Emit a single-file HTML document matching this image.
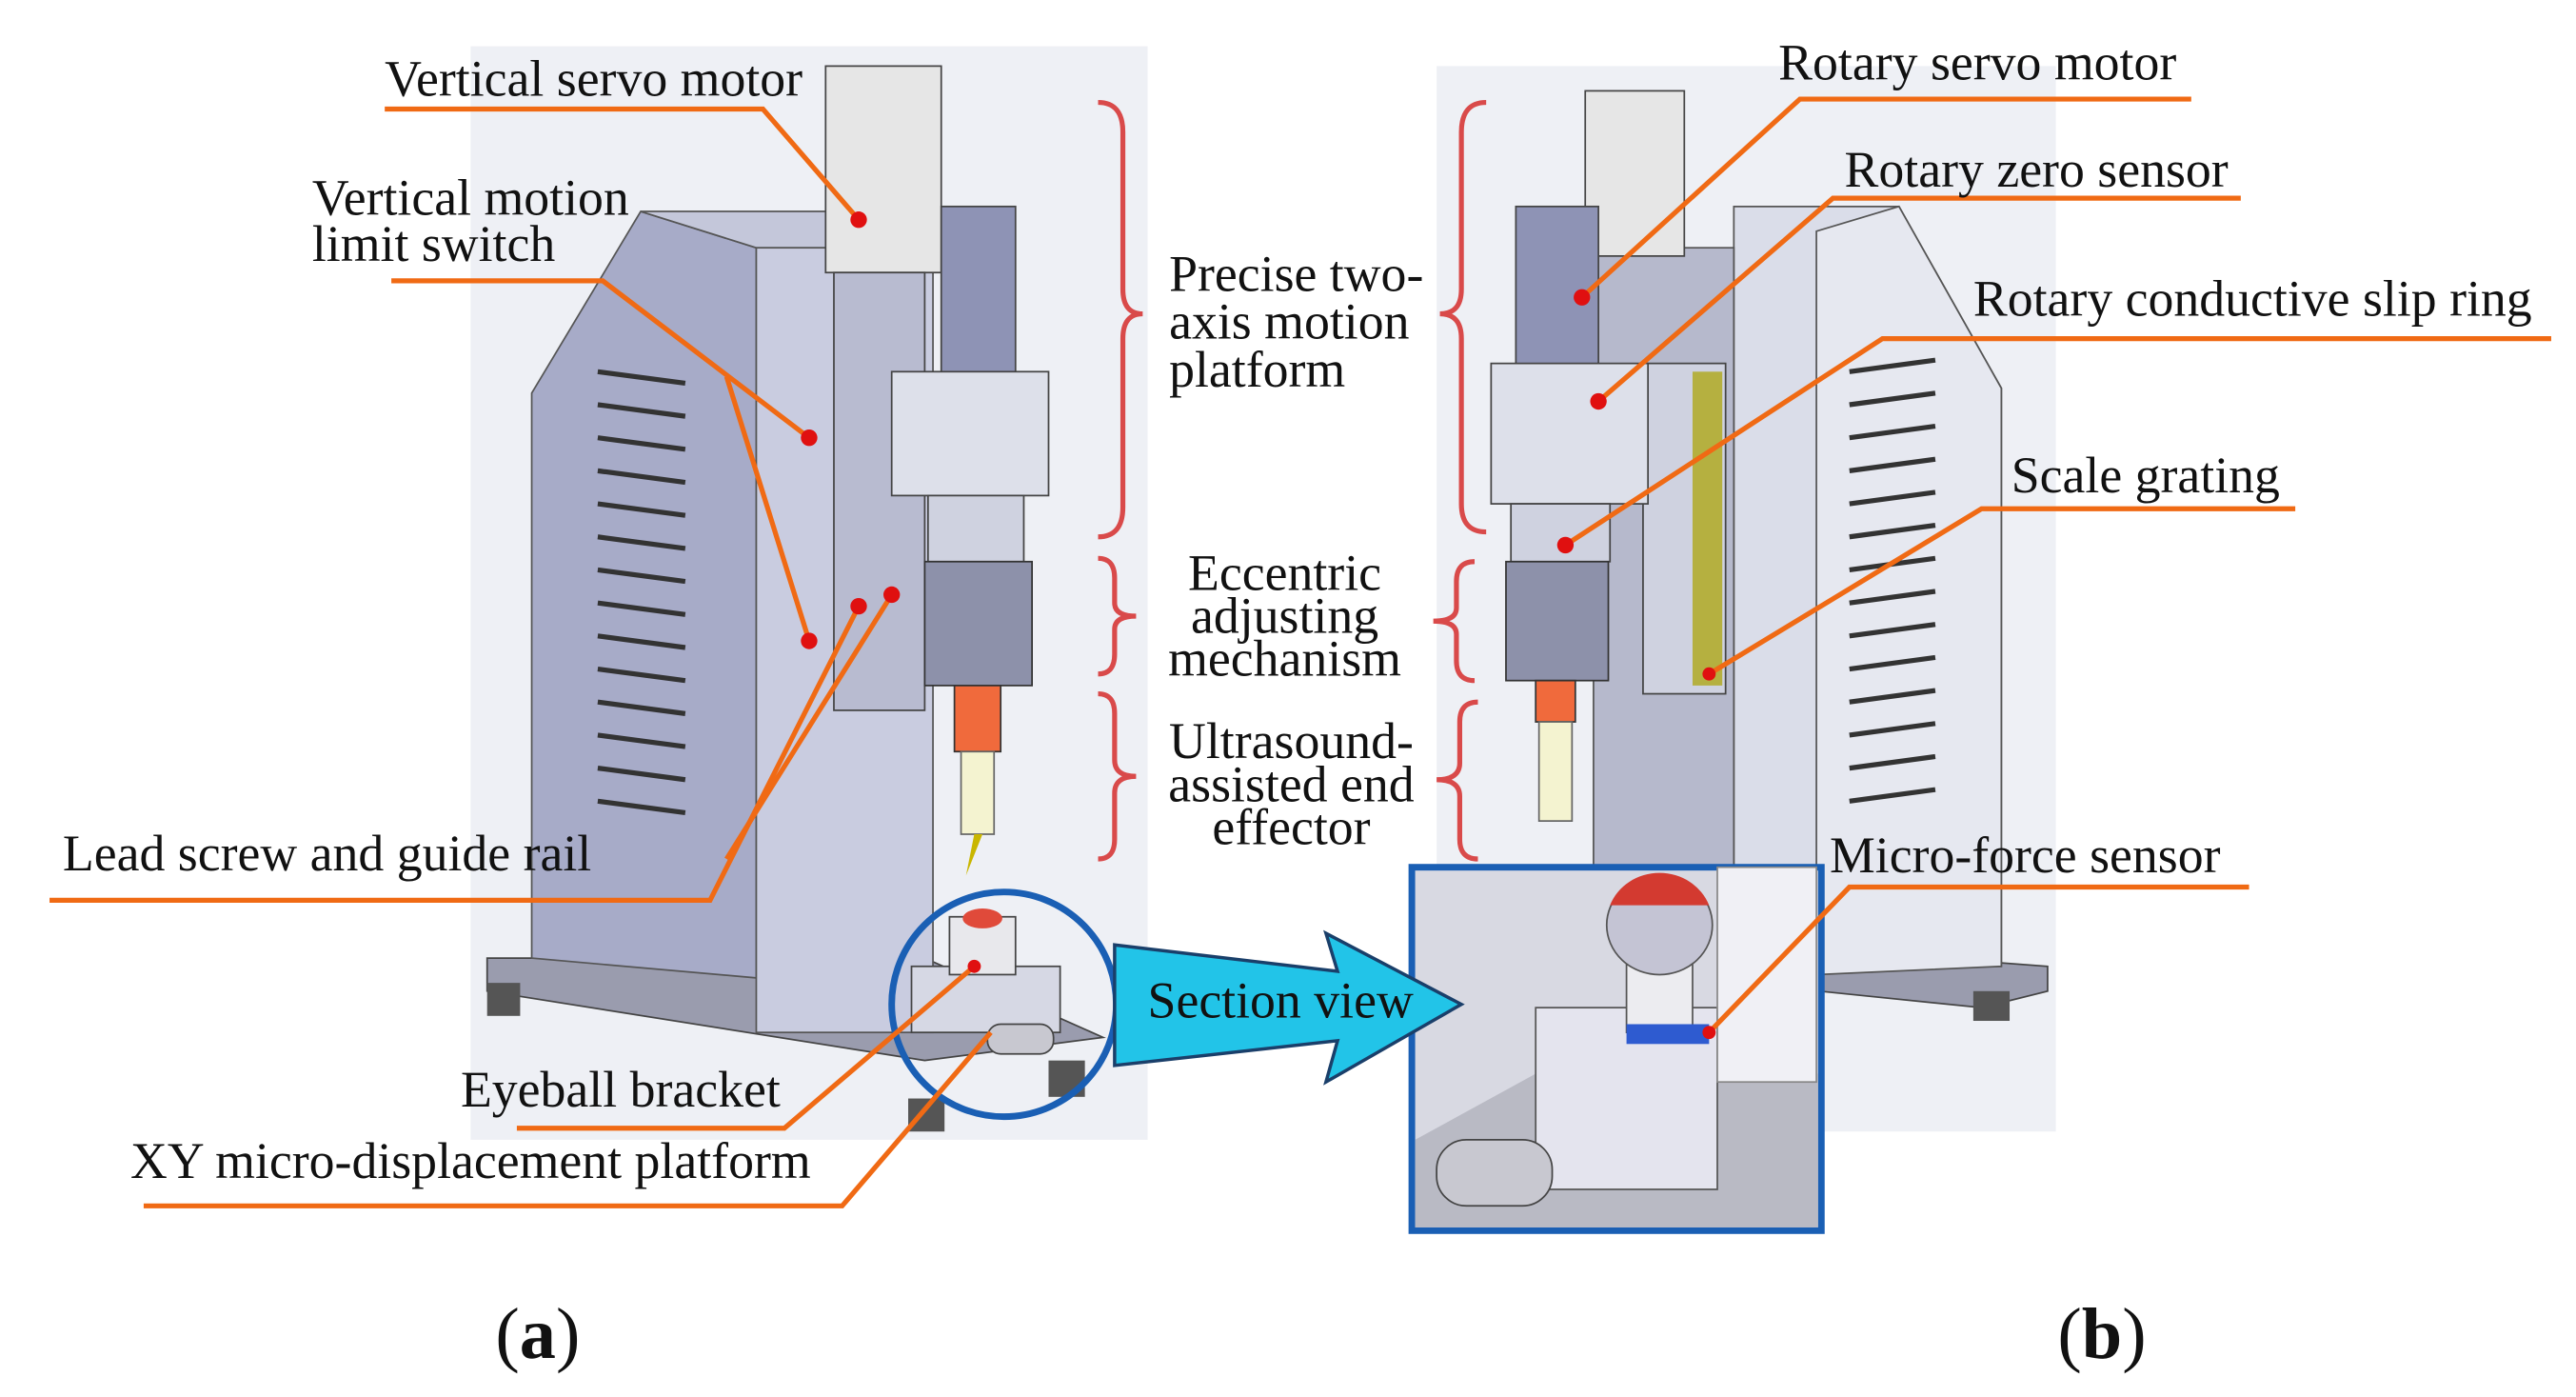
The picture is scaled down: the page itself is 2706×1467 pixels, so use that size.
<!DOCTYPE html>
<html><head><meta charset="utf-8"><style>
html,body{margin:0;padding:0;background:#fff;}
svg{display:block;}
text{font-family:"Liberation Serif",serif;font-size:31px;fill:#111;}
</style></head><body>
<svg width="2706" height="1467" viewBox="0 0 1560 845.7" preserveAspectRatio="none" xmlns="http://www.w3.org/2000/svg">
<rect x="285" y="28" width="410" height="662" fill="#eef0f5"/>
<rect x="870" y="40" width="375" height="645" fill="#eef0f5"/>

<polygon points="295,580 560,580 668,628 560,642 295,600" fill="#9a9cae" stroke="#444" stroke-width="1"/>
<polygon points="322,238 388,128 458,150 458,592 322,580" fill="#a7abc8" stroke="#555"/>
<polygon points="388,128 560,128 560,150 458,150" fill="#c4c7da" stroke="#555"/>
<g stroke="#333" stroke-width="3">
<line x1="362" y1="225" x2="415" y2="232"/><line x1="362" y1="245" x2="415" y2="252"/><line x1="362" y1="265" x2="415" y2="272"/><line x1="362" y1="285" x2="415" y2="292"/><line x1="362" y1="305" x2="415" y2="312"/><line x1="362" y1="325" x2="415" y2="332"/><line x1="362" y1="345" x2="415" y2="352"/><line x1="362" y1="365" x2="415" y2="372"/><line x1="362" y1="385" x2="415" y2="392"/><line x1="362" y1="405" x2="415" y2="412"/><line x1="362" y1="425" x2="415" y2="432"/><line x1="362" y1="445" x2="415" y2="452"/><line x1="362" y1="465" x2="415" y2="472"/><line x1="362" y1="485" x2="415" y2="492"/>
</g>
<rect x="458" y="150" width="107" height="475" fill="#c9cce0" stroke="#555"/>
<rect x="500" y="40" width="70" height="125" fill="#e6e6e6" stroke="#444"/>
<rect x="505" y="165" width="55" height="265" fill="#b8bbd0" stroke="#444"/>
<rect x="570" y="125" width="45" height="105" fill="#8e93b5" stroke="#444"/>
<rect x="540" y="225" width="95" height="75" fill="#dde0ea" stroke="#444"/>
<rect x="562" y="300" width="58" height="40" fill="#cfd2e0" stroke="#444"/>
<rect x="560" y="340" width="65" height="75" fill="#8d91aa" stroke="#333"/>
<rect x="578" y="415" width="28" height="40" fill="#f06a3c" stroke="#333"/>
<rect x="582" y="455" width="20" height="50" fill="#f4f3d0" stroke="#666"/>
<polygon points="590,505 595,505 585,530" fill="#c9b600"/>
<rect x="552" y="585" width="90" height="40" fill="#d6d8e4" stroke="#444"/>
<rect x="575" y="555" width="40" height="35" fill="#e8e8ec" stroke="#444"/>
<ellipse cx="595" cy="556" rx="12" ry="6" fill="#e04a3a"/>
<rect x="598" y="620" width="40" height="18" rx="8" fill="#c8c8d0" stroke="#444"/>
<rect x="295" y="595" width="20" height="20" fill="#555"/><rect x="635" y="642" width="22" height="22" fill="#555"/><rect x="550" y="665" width="22" height="20" fill="#555"/>

<polygon points="905,560 1240,585 1240,600 1200,610 905,580" fill="#9a9cae" stroke="#444"/>
<polygon points="1050,125 1150,125 1212,235 1212,585 1050,585" fill="#dadde9" stroke="#555"/>
<polygon points="1100,140 1150,125 1212,235 1212,585 1100,590" fill="#e6e8f0" stroke="#555"/>
<g stroke="#333" stroke-width="3">
<line x1="1120" y1="225" x2="1172" y2="218"/><line x1="1120" y1="245" x2="1172" y2="238"/><line x1="1120" y1="265" x2="1172" y2="258"/><line x1="1120" y1="285" x2="1172" y2="278"/><line x1="1120" y1="305" x2="1172" y2="298"/><line x1="1120" y1="325" x2="1172" y2="318"/><line x1="1120" y1="345" x2="1172" y2="338"/><line x1="1120" y1="365" x2="1172" y2="358"/><line x1="1120" y1="385" x2="1172" y2="378"/><line x1="1120" y1="405" x2="1172" y2="398"/><line x1="1120" y1="425" x2="1172" y2="418"/><line x1="1120" y1="445" x2="1172" y2="438"/><line x1="1120" y1="465" x2="1172" y2="458"/><line x1="1120" y1="485" x2="1172" y2="478"/>
</g>
<rect x="965" y="150" width="85" height="440" fill="#b6b9cc" stroke="#555"/>
<rect x="960" y="55" width="60" height="100" fill="#e6e6e6" stroke="#444"/>
<rect x="918" y="125" width="50" height="100" fill="#8e93b5" stroke="#444"/>
<rect x="995" y="220" width="50" height="200" fill="#cfd2e0" stroke="#444"/>
<rect x="1025" y="225" width="18" height="190" fill="#b5b040"/>
<rect x="903" y="220" width="95" height="85" fill="#dde0ea" stroke="#444"/>
<rect x="915" y="305" width="60" height="35" fill="#cfd2e0" stroke="#444"/>
<rect x="912" y="340" width="62" height="72" fill="#8d91aa" stroke="#333"/>
<rect x="930" y="412" width="24" height="25" fill="#f06a3c" stroke="#333"/>
<rect x="932" y="437" width="20" height="60" fill="#f4f3d0" stroke="#666"/>
<rect x="1195" y="600" width="22" height="18" fill="#555"/>

<rect x="855" y="525" width="248" height="220" fill="#d8d9e2" stroke="#1a5fb4" stroke-width="4"/>
<polygon points="857,690 930,650 1101,650 1101,743 857,743" fill="#b9bac4"/>
<rect x="930" y="610" width="110" height="110" fill="#e4e4ee" stroke="#555"/>
<rect x="985" y="545" width="40" height="80" fill="#ececf0" stroke="#555"/>
<ellipse cx="1005" cy="560" rx="32" ry="30" fill="#c4c4d4" stroke="#555"/>
<path d="M975,548 A32,30 0 0 1 1035,548 Z" fill="#d33a30"/>
<rect x="985" y="620" width="50" height="12" fill="#2e5bd0"/>
<rect x="870" y="690" width="70" height="40" rx="18" fill="#c8c8d0" stroke="#444"/>
<rect x="1040" y="525" width="60" height="130" fill="#f0f0f5" stroke="#888"/>

<circle cx="608" cy="608" r="68" fill="none" stroke="#1a5fb4" stroke-width="4"/>
<polygon points="675,572 810,588 803,565 885,608 803,655 810,630 675,645" fill="#22c4e8" stroke="#1a3f6a" stroke-width="2"/>
<text x="695" y="616">Section view</text>

<g fill="none" stroke="#d94a4a" stroke-width="3">
<path d="M665,62 Q680,62 680,80 V175 Q680,190 692,190 Q680,190 680,205 V307 Q680,325 665,325"/>
<path d="M665,338 Q675,338 675,350 V365 Q675,373 688,373 Q675,373 675,381 V396 Q675,408 665,408"/>
<path d="M665,420 Q675,420 675,432 V460 Q675,470 688,470 Q675,470 675,480 V508 Q675,520 665,520"/>
<path d="M900,62 Q885,62 885,80 V175 Q885,190 872,190 Q885,190 885,205 V305 Q885,322 900,322"/>
<path d="M893,340 Q882,340 882,352 V368 Q882,376 868,376 Q882,376 882,384 V400 Q882,412 893,412"/>
<path d="M895,425 Q884,425 884,437 V462 Q884,472 870,472 Q884,472 884,482 V508 Q884,520 895,520"/>
</g>

<g fill="none" stroke="#f06a14" stroke-width="3">
<path d="M233,66 H462 L520,133"/>
<path d="M237,170 H365 L490,265"/>
<path d="M440,228 L490,388"/>
<path d="M30,545 H430 L520,367"/>
<path d="M440,520 L540,360"/>
<path d="M313,683 H475 L590,585"/>
<path d="M87,730 H510 L600,625"/>
<path d="M1327,60 H1090 L958,180"/>
<path d="M1357,120 H1110 L968,243"/>
<path d="M1545,205 H1140 L948,330"/>
<path d="M1390,308 H1200 L1035,408"/>
<path d="M1362,537 H1120 L1035,625"/>
</g>
<g fill="#e01010">
<circle cx="520" cy="133" r="5"/><circle cx="490" cy="265" r="5"/><circle cx="490" cy="388" r="5"/>
<circle cx="520" cy="367" r="5"/><circle cx="540" cy="360" r="5"/><circle cx="590" cy="585" r="4"/>
<circle cx="958" cy="180" r="5"/><circle cx="968" cy="243" r="5"/><circle cx="948" cy="330" r="5"/>
<circle cx="1035" cy="408" r="4"/><circle cx="1035" cy="625" r="4"/>
</g>

<text x="233" y="58">Vertical servo motor</text>
<text x="189" y="130">Vertical motion</text>
<text x="189" y="158">limit switch</text>
<text x="708" y="176">Precise two-</text>
<text x="708" y="205">axis motion</text>
<text x="708" y="234">platform</text>
<text x="778" y="357" text-anchor="middle">Eccentric</text>
<text x="778" y="383" text-anchor="middle">adjusting</text>
<text x="778" y="409" text-anchor="middle">mechanism</text>
<text x="782" y="459" text-anchor="middle">Ultrasound-</text>
<text x="782" y="485" text-anchor="middle">assisted end</text>
<text x="782" y="511" text-anchor="middle">effector</text>
<text x="38" y="527">Lead screw and guide rail</text>
<text x="279" y="670">Eyeball bracket</text>
<text x="79" y="713">XY micro-displacement platform</text>
<text x="1077" y="48">Rotary servo motor</text>
<text x="1117" y="113">Rotary zero sensor</text>
<text x="1195" y="191">Rotary conductive slip ring</text>
<text x="1218" y="298">Scale grating</text>
<text x="1108" y="528">Micro-force sensor</text>
<text x="300" y="822" style="font-size:44px">(<tspan font-weight="bold">a</tspan>)</text>
<text x="1246" y="822" style="font-size:44px">(<tspan font-weight="bold">b</tspan>)</text>
</svg>
</body></html>
